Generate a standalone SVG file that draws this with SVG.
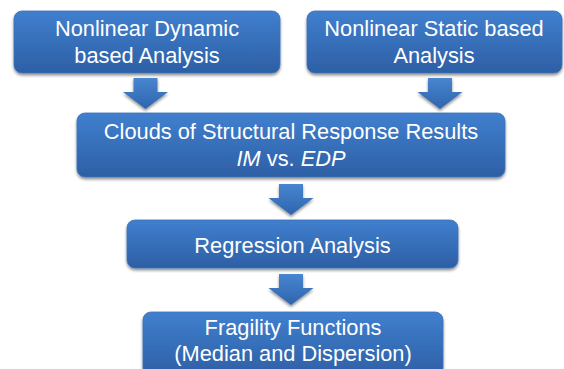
<svg xmlns="http://www.w3.org/2000/svg" width="564" height="369" viewBox="0 0 564 369">
<defs>
<linearGradient id="g" x1="0" y1="0" x2="0" y2="1">
<stop offset="0" stop-color="#407fce"/>
<stop offset="1" stop-color="#2d5fa5"/>
</linearGradient>
<linearGradient id="ga" x1="0" y1="0" x2="0" y2="1">
<stop offset="0" stop-color="#4886d0"/>
<stop offset="1" stop-color="#2e64ad"/>
</linearGradient>
<filter id="sh" x="-10%" y="-10%" width="120%" height="130%">
<feGaussianBlur in="SourceAlpha" stdDeviation="1.5"/>
<feOffset dx="0" dy="2" result="b"/>
<feComponentTransfer><feFuncA type="linear" slope="0.45"/></feComponentTransfer>
<feMerge><feMergeNode/><feMergeNode in="SourceGraphic"/></feMerge>
</filter>
<path id="arr" d="M-12,0 H12 V14 H22.5 L0,31 L-22.5,14 H-12 Z"/>
</defs>
<style>
.box{fill:url(#g);stroke:#3a72ba;stroke-width:0.8;filter:url(#sh)}
.t{font-family:"Liberation Sans",Arial,sans-serif;font-size:21.8px;fill:#ffffff;text-anchor:middle}
.a{fill:url(#ga);filter:url(#sh)}
</style>
<rect width="564" height="369" fill="#ffffff"/>
<g id="connectors">
<use href="#arr" class="a" x="145.5" y="78"/>
<use href="#arr" class="a" x="440" y="78"/>
<use href="#arr" class="a" x="291" y="184"/>
<use href="#arr" class="a" x="291" y="274"/>
</g>
<g id="n1">
<rect class="box" x="14" y="11" width="266" height="62" rx="8"/>
<text class="t" x="147" y="36">Nonlinear Dynamic</text>
<text class="t" x="147" y="63">based Analysis</text>
</g>
<g id="n2">
<rect class="box" x="307" y="11" width="255" height="62" rx="8"/>
<text class="t" x="434" y="36">Nonlinear Static based</text>
<text class="t" x="434" y="63">Analysis</text>
</g>
<g id="n3">
<rect class="box" x="77" y="113" width="428" height="64" rx="8"/>
<text class="t" x="291" y="139">Clouds of Structural Response Results</text>
<text class="t" x="291" y="166"><tspan font-style="italic">IM</tspan> vs. <tspan font-style="italic">EDP</tspan></text>
</g>
<g id="n4">
<rect class="box" x="127" y="220" width="331" height="48" rx="8"/>
<text class="t" x="292.5" y="253">Regression Analysis</text>
</g>
<g id="n5">
<rect class="box" x="143" y="312" width="300" height="64" rx="8"/>
<text class="t" x="293" y="335">Fragility Functions</text>
<text class="t" x="293" y="361">(Median and Dispersion)</text>
</g>
</svg>
